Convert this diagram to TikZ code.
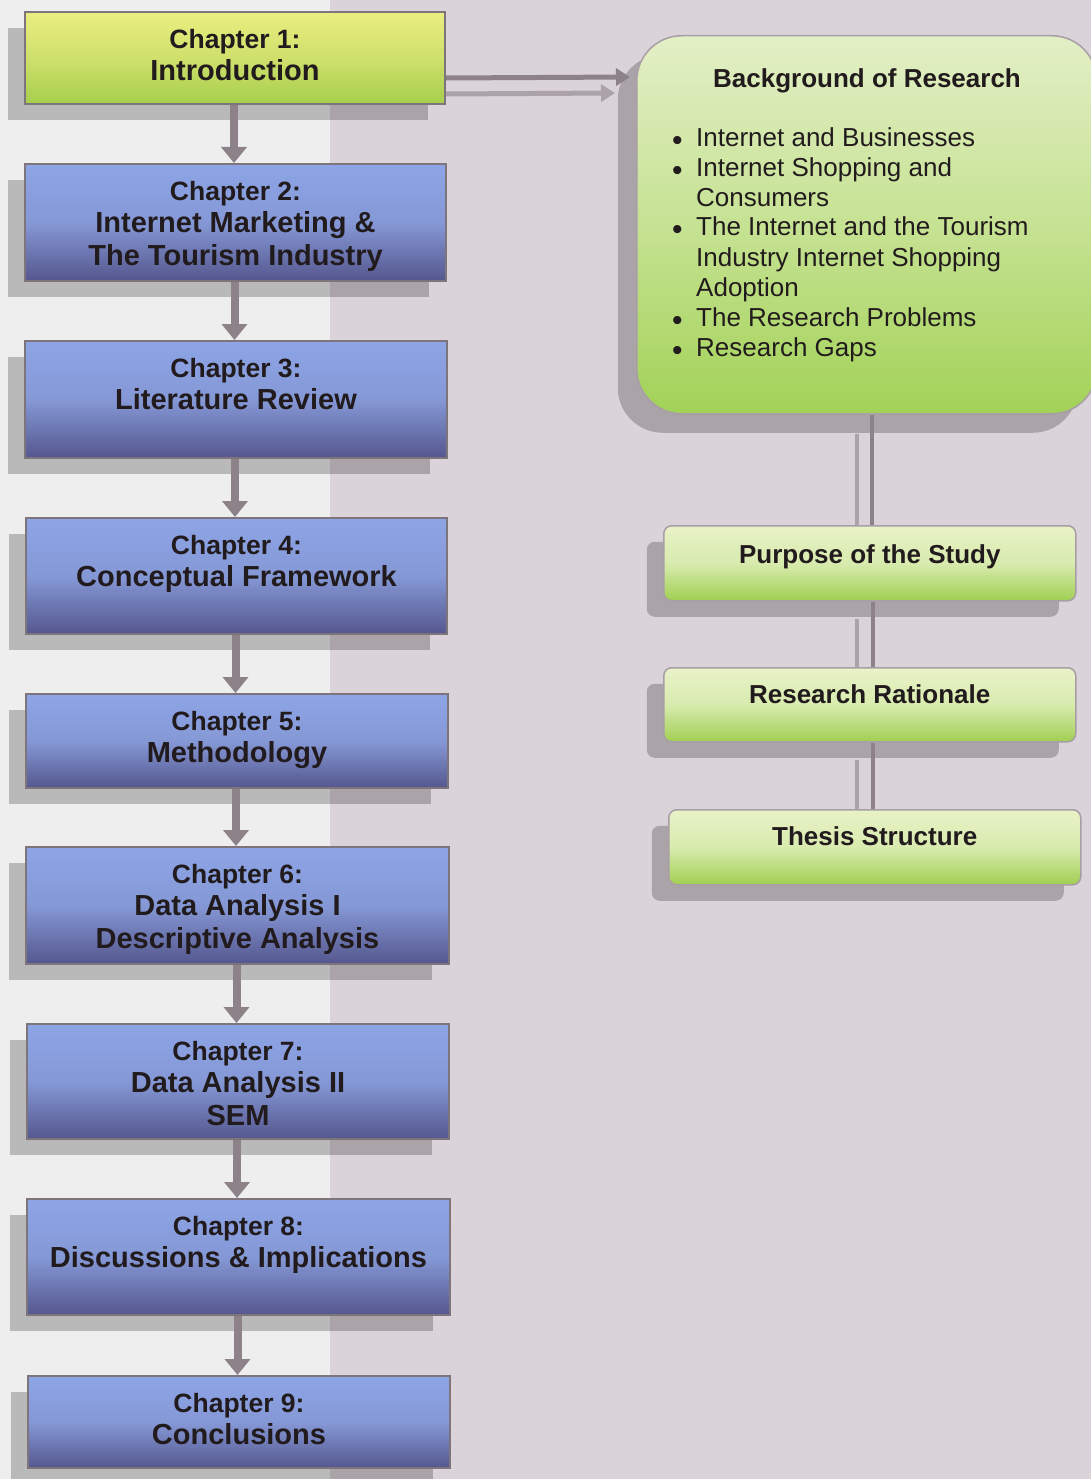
\documentclass[tikz,border=0pt]{standalone}
\usepackage{fontspec}
\setmainfont{Liberation Sans}
\usetikzlibrary{arrows.meta,shadows}
\definecolor{bgL}{HTML}{EFEEEF}
\definecolor{bgR}{HTML}{DAD3D9}
\definecolor{edge}{HTML}{7E747B}
\definecolor{gedge}{HTML}{A89EA5}
\definecolor{arr}{HTML}{8C8288}
\definecolor{arrS}{HTML}{ACA3A9}
\definecolor{txt}{HTML}{221B1D}
\definecolor{bT}{HTML}{8DA5E6}
\definecolor{bM}{HTML}{8598D6}
\definecolor{bB}{HTML}{55578E}
\definecolor{yT}{HTML}{EAEE80}
\definecolor{yM}{HTML}{CFE06C}
\definecolor{yB}{HTML}{A5CF4C}
\definecolor{gT}{HTML}{E9F2C8}
\definecolor{gM}{HTML}{D8EBAE}
\definecolor{gB}{HTML}{A0CF52}
\definecolor{kT}{HTML}{E3EFC6}
\definecolor{kM}{HTML}{C6E293}
\definecolor{kB}{HTML}{A2D257}
\newcommand{\bulmark}{\makebox[24pt][l]{\raisebox{-4pt}{\fontsize{30}{30}\selectfont\textbullet}}}
\begin{document}
\begin{tikzpicture}[x=1pt,y=-1pt,
  shadowed/.style={drop shadow={shadow xshift=-17pt,shadow yshift=-16pt,fill=black,opacity=0.22}},
  chapbox/.style={rectangle,anchor=north west,inner sep=0pt,draw=edge,line width=2pt,shadowed},
  bluebox/.style={chapbox,top color=bT,bottom color=bB,middle color=bM},
  yellowbox/.style={chapbox,top color=yT,bottom color=yB,middle color=yM},
  greenbox/.style={rectangle,rounded corners=8pt,anchor=north west,inner sep=0pt,draw=gedge,line width=1.5pt,top color=gT,bottom color=gB,middle color=gM,shadowed},
  bigbox/.style={rectangle,rounded corners=45pt,anchor=north west,inner sep=0pt,draw=gedge,line width=1.5pt,top color=kT,bottom color=kB,middle color=kM,drop shadow={shadow xshift=-19pt,shadow yshift=-19pt,fill=black,opacity=0.22}},
  ctxt/.style={anchor=north,inner sep=0pt,align=center,text=txt,font=\bfseries\fontsize{29}{32.5}\selectfont},
  gtxt/.style={anchor=base,inner sep=0pt,text=txt,font=\bfseries\fontsize{26}{30}\selectfont},
  btxt/.style={anchor=base west,inner sep=0pt,text=txt,font=\fontsize{26}{30}\selectfont},
  varrow/.style={draw=arr,line width=8pt,-{Triangle[width=25pt,length=16pt]}},
  harrow/.style={draw=arr,line width=5pt,-{Triangle[width=17pt,length=14pt]}},
  sharrow/.style={draw=arrS,line width=5pt,-{Triangle[width=17pt,length=14pt]}},
  vline/.style={draw=arr,line width=4.5pt},
  sline/.style={draw=arrS,line width=4.5pt}
]
\clip (0,0) rectangle (1091,1479);
\fill[bgL] (0,0) rectangle (330,1479);
\fill[bgR] (330,0) rectangle (1091,1479);

% left column
\node[yellowbox,minimum width=420pt,minimum height=92pt] (c1) at (24,11) {};
\node[bluebox,minimum width=421pt,minimum height=117pt] (c2) at (24,163) {};
\node[bluebox,minimum width=422pt,minimum height=117pt] (c3) at (24,340) {};
\node[bluebox,minimum width=421pt,minimum height=116pt] (c4) at (25,517) {};
\node[bluebox,minimum width=422pt,minimum height=94pt] (c5) at (25,693) {};
\node[bluebox,minimum width=423pt,minimum height=117pt] (c6) at (25,846) {};
\node[bluebox,minimum width=422pt,minimum height=115pt] (c7) at (26,1023) {};
\node[bluebox,minimum width=423pt,minimum height=116pt] (c8) at (26,1198) {};
\node[bluebox,minimum width=422pt,minimum height=92pt] (c9) at (27,1375) {};

\node[ctxt] (t1) at ([yshift=-17.7pt]c1.north) {{\fontsize{26.5}{32.5}\selectfont Chapter 1:}\\Introduction};
\node[ctxt] (t2) at ([yshift=-17.7pt]c2.north) {{\fontsize{26.5}{32.5}\selectfont Chapter 2:}\\Internet Marketing \&\\The Tourism Industry};
\node[ctxt] (t3) at ([yshift=-17.7pt]c3.north) {{\fontsize{26.5}{32.5}\selectfont Chapter 3:}\\Literature Review};
\node[ctxt] (t4) at ([yshift=-17.7pt]c4.north) {{\fontsize{26.5}{32.5}\selectfont Chapter 4:}\\Conceptual Framework};
\node[ctxt] (t5) at ([yshift=-17.7pt]c5.north) {{\fontsize{26.5}{32.5}\selectfont Chapter 5:}\\Methodology};
\node[ctxt] (t6) at ([yshift=-17.7pt]c6.north) {{\fontsize{26.5}{32.5}\selectfont Chapter 6:}\\Data Analysis I\\Descriptive Analysis};
\node[ctxt] (t7) at ([yshift=-17.7pt]c7.north) {{\fontsize{26.5}{32.5}\selectfont Chapter 7:}\\Data Analysis II\\SEM};
\node[ctxt] (t8) at ([yshift=-17.7pt]c8.north) {{\fontsize{26.5}{32.5}\selectfont Chapter 8:}\\Discussions \& Implications};
\node[ctxt] (t9) at ([yshift=-17.7pt]c9.north) {{\fontsize{26.5}{32.5}\selectfont Chapter 9:}\\Conclusions};

\draw[varrow] ([xshift=-1pt]c1.south) -- ([xshift=-1pt]c1.south |- c2.north);
\draw[varrow] ([xshift=-1pt]c2.south) -- ([xshift=-1pt]c2.south |- c3.north);
\draw[varrow] ([xshift=-1pt]c3.south) -- ([xshift=-1pt]c3.south |- c4.north);
\draw[varrow] ([xshift=-1pt]c4.south) -- ([xshift=-1pt]c4.south |- c5.north);
\draw[varrow] ([xshift=-1pt]c5.south) -- ([xshift=-1pt]c5.south |- c6.north);
\draw[varrow] ([xshift=-1pt]c6.south) -- ([xshift=-1pt]c6.south |- c7.north);
\draw[varrow] ([xshift=-1pt]c7.south) -- ([xshift=-1pt]c7.south |- c8.north);
\draw[varrow] ([xshift=-1pt]c8.south) -- ([xshift=-1pt]c8.south |- c9.north);

% right column
\coordinate (bgin) at (630,77);
\coordinate (bgins) at (615,93);
\draw[sharrow] ([yshift=-36pt]c1.east) -- (bgins);

\node[bigbox,minimum width=460pt,minimum height=378pt] (bg) at (636,35) {};
\node[greenbox,minimum width=412pt,minimum height=75pt] (pur) at (663,525) {};
\node[greenbox,minimum width=412pt,minimum height=74pt] (rat) at (663,667) {};
\node[greenbox,minimum width=412pt,minimum height=75pt] (the) at (668,809) {};

\draw[harrow] ([yshift=-20pt]c1.east) -- (bgin);

\draw[sline] ([xshift=-10pt,yshift=-19pt]bg.south) -- ([xshift=-10pt]bg.south |- pur.north);
\draw[sline] ([xshift=-13pt,yshift=-17pt]pur.south) -- ([xshift=-13pt]pur.south |- rat.north);
\draw[sline] ([xshift=-13pt,yshift=-17pt]rat.south) -- ([xshift=-13pt]rat.south |- the.north);
\draw[vline] ([xshift=5pt]bg.south) -- ([xshift=5pt]bg.south |- pur.north);
\draw[vline] ([xshift=3pt]pur.south) -- ([xshift=3pt]pur.south |- rat.north);
\draw[vline] ([xshift=3pt]rat.south) -- ([xshift=3pt]rat.south |- the.north);

\node[gtxt] (bgt) at (867,88) {Background of Research};
\node[btxt] (b1) at (672,147) {\bulmark Internet and Businesses};
\node[btxt] (b2) at (672,177) {\bulmark Internet Shopping and};
\node[btxt] (b3) at (696,207) {Consumers};
\node[btxt] (b4) at (672,236) {\bulmark The Internet and the Tourism};
\node[btxt] (b5) at (696,266) {Industry Internet Shopping};
\node[btxt] (b6) at (696,296) {Adoption};
\node[btxt] (b7) at (672,326) {\bulmark The Research Problems};
\node[btxt] (b8) at (672,356) {\bulmark Research Gaps};

\node[gtxt] (purt) at ([yshift=-38pt]pur.north) {Purpose of the Study};
\node[gtxt] (ratt) at ([yshift=-36pt]rat.north) {Research Rationale};
\node[gtxt] (thet) at ([yshift=-36pt]the.north) {Thesis Structure};
\end{tikzpicture}
\end{document}
